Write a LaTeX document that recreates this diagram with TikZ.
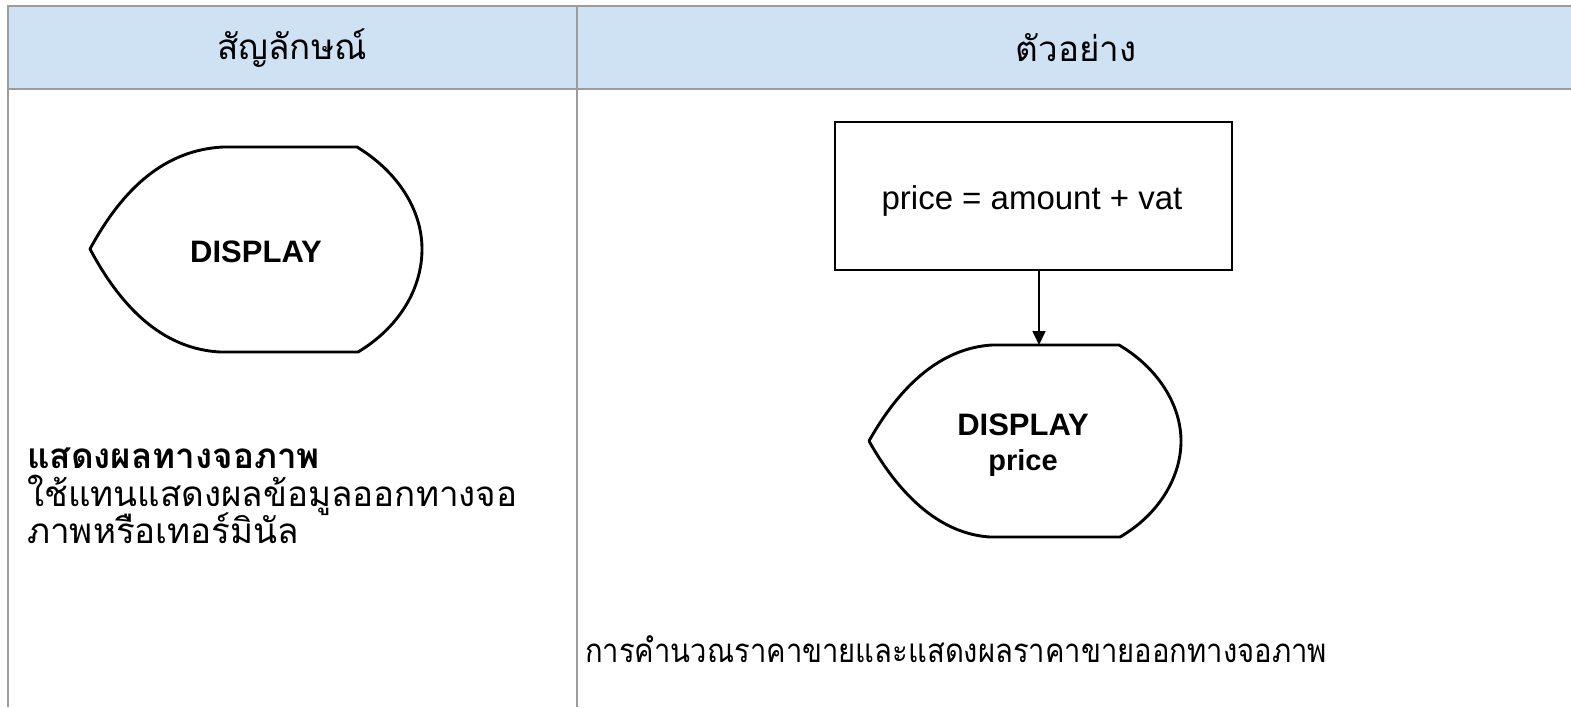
\documentclass[tikz,border=0pt]{standalone}
\usepackage{fontspec}
\setmainfont{Liberation Sans}
\newfontfamily\thaifont[Script=Thai]{Loma}
\usetikzlibrary{arrows.meta}
\definecolor{hdr}{HTML}{CFE2F3}
\definecolor{gridc}{HTML}{9C9C9C}
\tikzset{
  gridline/.style={draw=gridc, line width=2.8pt},
  shapeline/.style={draw=black, line width=2.9pt, line join=round},
  thaitxt/.style={inner sep=0pt, font=\thaifont\fontsize{35}{40}\selectfont},
  thaibold/.style={inner sep=0pt, font=\thaifont\bfseries\fontsize{35}{40}\selectfont},
  disptxt/.style={inner sep=0pt, font=\bfseries\fontsize{31}{36}\selectfont},
  calctxt/.style={inner sep=0pt, font=\fontsize{33}{38}\selectfont},
  box/.style={draw=black, line width=2pt, minimum width=397pt, minimum height=148pt, inner sep=0pt},
  conn/.style={draw=black, line width=1.7pt, -{Triangle[length=14pt,width=13pt]}}
}
\begin{document}
\begin{tikzpicture}[x=1pt,y=-1pt]
\useasboundingbox (0,0) rectangle (1571,707);
% table
\fill[hdr] (8,6) rectangle (1571,89);
\draw[gridline] (8,707) -- (8,6) -- (1571,6);
\draw[gridline] (8,89) -- (1571,89);
\draw[gridline] (577,6) -- (577,707);
% headers
\node[thaitxt] (h1) at (292,48) {สัญลักษณ์};
\node[thaitxt] (h2) at (1076,48) {ตัวอย่าง};
% left symbol
\draw[shapeline] (90,249) .. controls (123,188) and (165,150) .. (223,147) -- (357,147)
  .. controls (398,172) and (422,210) .. (422,249)
  .. controls (422,290) and (398,328) .. (358,352) -- (220,352)
  .. controls (165,349) and (123,311) .. (90,249) -- cycle;
\node[disptxt] (d1) at (256,252) {DISPLAY};
% left description
\node[thaibold, anchor=base west] (t1) at (27,468) {แสดงผลทางจอภาพ};
\node[thaitxt, anchor=base west] (t2) at (27,506) {ใช้แทนแสดงผลข้อมูลออกทางจอ};
\node[thaitxt, anchor=base west] (t3) at (27,543) {ภาพหรือเทอร์มินัล};
% example
\node[box] (calc) at (1033.5,196) {};
\node[calctxt] (ct) at (1032,201) {price = amount + vat};
\coordinate (d2top) at (1039,345);
\draw[shapeline] (869,441) .. controls (901,384) and (942,348) .. (992,345) -- (1119,345)
  .. controls (1158,368) and (1181,405) .. (1181,441)
  .. controls (1181,478) and (1158,515) .. (1120,537) -- (990,537)
  .. controls (942,534) and (901,498) .. (869,441) -- cycle;
\draw[conn] (calc.south -| d2top) -- (d2top);
\node[disptxt] (d2a) at (1023,425) {DISPLAY};
\node[disptxt, font=\bfseries\fontsize{29}{34}\selectfont] (d2b) at (1023,463) {price};
\node[thaitxt, anchor=base west, font=\thaifont\fontsize{33}{38}\selectfont, xscale=0.885, transform shape] (t4) at (585,662) {การคำนวณราคาขายและแสดงผลราคาขายออกทางจอภาพ};
\end{tikzpicture}
\end{document}
